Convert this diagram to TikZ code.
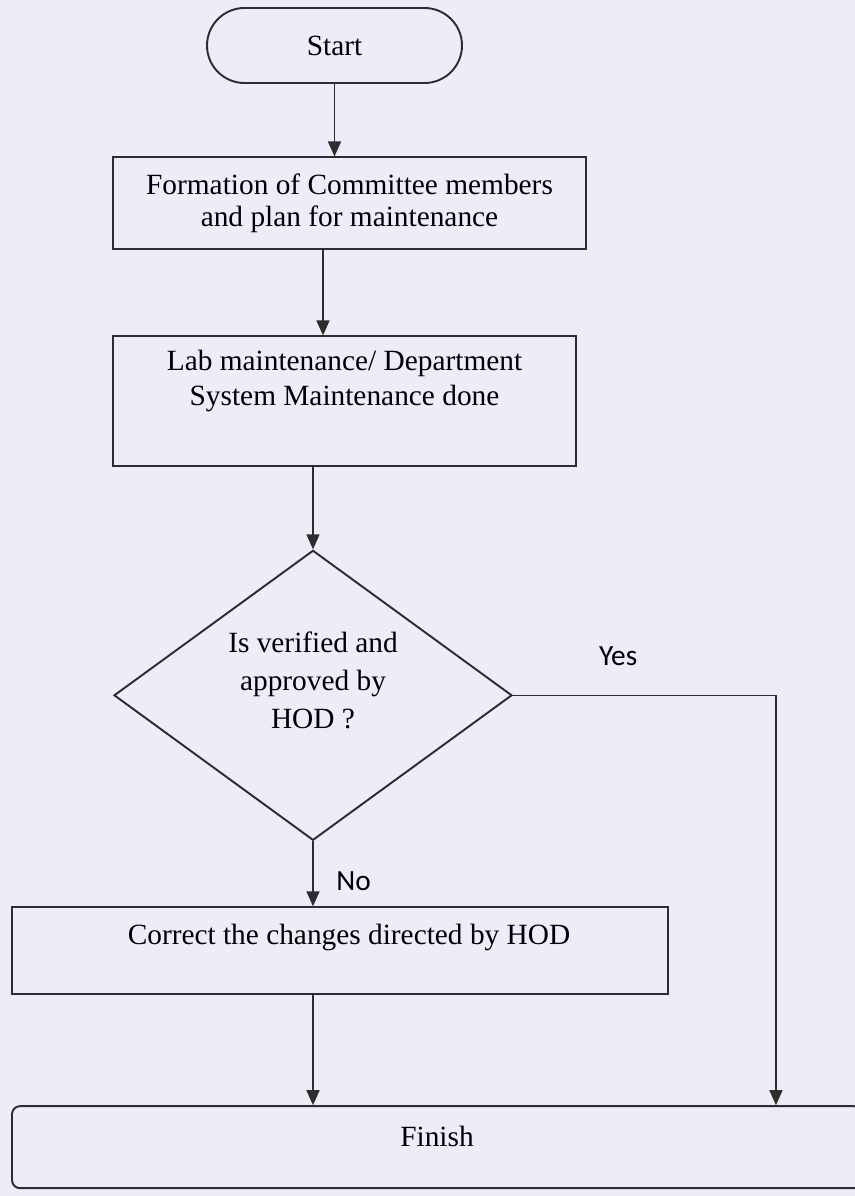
\documentclass[tikz,border=0pt]{standalone}
\usepackage{fontspec}
\setmainfont{Liberation Serif}
\newfontfamily\labelfont{Carlito}
\usetikzlibrary{positioning,shapes.geometric,arrows.meta}
\definecolor{paper}{RGB}{240,235,248}
\definecolor{ink}{RGB}{45,45,45}
\tikzset{
  Terminal/.style = {draw=ink, line width=1.1pt, rounded corners=0.75cm,
    minimum width=5.1cm, minimum height=1.5cm, font=\fontsize{16.7}{19}\selectfont},
  Process/.style = {draw=ink, line width=1.1pt, align=center, inner sep=0pt,
    font=\fontsize{16.7}{18.2}\selectfont},
  Decision/.style = {draw=ink, line width=1.1pt, diamond, aspect=1.4, inner sep=0pt,
    align=center, font=\fontsize{16.7}{21.6}\selectfont},
  Flow/.style = {draw=ink, line width=0.9pt, -{Triangle[length=0.3cm,width=0.26cm]}},
  Answer/.style = {font=\labelfont\fontsize{16.7}{19}\selectfont, inner sep=0pt}
}

\begin{document}
\begin{tikzpicture}
  \fill[paper] (0,0) rectangle (17.1,-23.92);
  \useasboundingbox (0,0) rectangle (17.1,-23.92);
  \node[Terminal] (start) at (6.69,-0.91) {Start};
  \node[Process, minimum width=9.46cm, minimum height=1.84cm,
    below=1.45cm of start, xshift=0.3cm] (plan)
    {Formation of Committee members\\and plan for maintenance};
  \node[Process, minimum width=9.26cm, minimum height=2.6cm, text depth=0.93cm,
    font=\fontsize{16.7}{19.9}\selectfont,
    below=1.7cm of plan, xshift=-0.1cm] (maint)
    {Lab maintenance/ Department\\System Maintenance done};
  \node[Decision, minimum width=7.96cm, minimum height=5.8cm, text depth=0.6cm,
    below=1.64cm of maint, xshift=-0.63cm] (check)
    {Is verified and\\approved by\\HOD ?};
  \node[Process, minimum width=13.12cm, minimum height=1.74cm, text depth=0.66cm,
    below=1.3cm of check, xshift=0.54cm] (fix)
    {\hspace*{0.36cm}Correct the changes directed by HOD};
  \node[Process, rounded corners=0.16cm, minimum width=17cm, minimum height=1.64cm,
    text depth=0.44cm, below=2.2cm of fix, xshift=1.94cm] (finish) {Finish};
  \coordinate[right=5.26cm of check.east] (turn);

  \draw[Flow] (start.south) -- (start.south |- plan.north);
  \draw[Flow] ([xshift=-0.53cm]plan.south) -- ([xshift=-0.53cm]plan.south |- maint.north);
  \draw[Flow] (check.north |- maint.south) -- (check.north);
  \draw[Flow] (check.east) -- node[Answer, pos=0.4, above=0.58cm] {Yes} (turn)
    -- (turn |- finish.north);
  \draw[Flow] (check.south) -- node[Answer, pos=0.62, right=0.45cm] {No}
    (check.south |- fix.north);
  \draw[Flow] (check.south |- fix.south) -- (check.south |- finish.north);
\end{tikzpicture}
\end{document}
